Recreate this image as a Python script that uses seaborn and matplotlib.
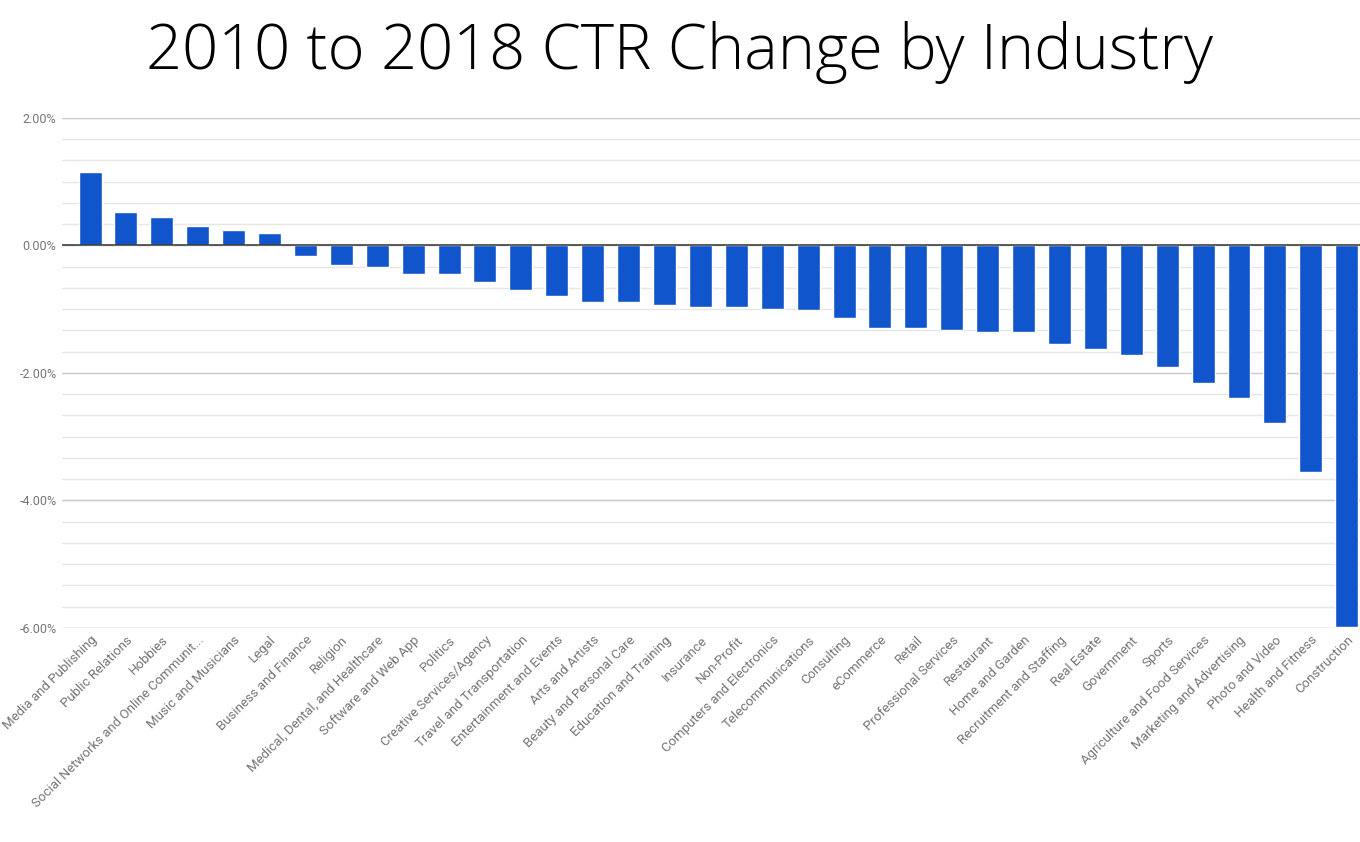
import matplotlib
matplotlib.use("Agg")
import matplotlib.pyplot as plt
import seaborn as sns
import pandas as pd
import numpy as np

industries = [
    "Media and Publishing", "Public Relations", "Hobbies",
    "Social Networks and Online Communit...", "Music and Musicians", "Legal",
    "Business and Finance", "Religion", "Medical, Dental, and Healthcare",
    "Software and Web App", "Politics", "Creative Services/Agency",
    "Travel and Transportation", "Entertainment and Events", "Arts and Artists",
    "Beauty and Personal Care", "Education and Training", "Insurance",
    "Non-Profit", "Computers and Electronics", "Telecommunications",
    "Consulting", "eCommerce", "Retail", "Professional Services", "Restaurant",
    "Home and Garden", "Recruitment and Staffing", "Real Estate", "Government",
    "Sports", "Agriculture and Food Services", "Marketing and Advertising",
    "Photo and Video", "Health and Fitness", "Construction",
]
ctr_change = [
    1.16, 0.52, 0.44, 0.30, 0.25, 0.20,
    -0.17, -0.31, -0.33, -0.44, -0.45, -0.58,
    -0.70, -0.80, -0.88, -0.89, -0.94, -0.96,
    -0.97, -0.99, -1.02, -1.14, -1.29, -1.30,
    -1.32, -1.36, -1.36, -1.55, -1.63, -1.72,
    -1.90, -2.16, -2.40, -2.79, -3.56, -5.99,
]
major_ticks = [2, 0, -2, -4, -6]
major_labels = ["2.00%", "0.00%", "-2.00%", "-4.00%", "-6.00%"]

df = pd.DataFrame({"industry": industries, "change": ctr_change})

sns.set_style("white")
plt.rcParams["font.family"] = ["Roboto", "DejaVu Sans"]

fig = plt.figure(figsize=(13.6, 8.42), dpi=100)
ax = fig.add_axes([0.0456, 0.2542, 0.9544, 0.6057])

# minor gridlines every third of a percent
for y in np.arange(-6, 2.01, 2 / 6):
    ax.axhline(y, color="#e6e6e6", lw=1, zorder=0)
for y in major_ticks:
    ax.axhline(y, color="#cccccc", lw=1, zorder=0)

sns.barplot(data=df, x="industry", y="change", color="#1155cc",
            saturation=1, width=0.64, ax=ax, zorder=2)
ax.axhline(0, color="#333333", lw=1.1, zorder=3)

ax.set_ylim(-6, 2)
ax.set_xlim(-0.78, 35.37)
ax.set_yticks(major_ticks)
ax.set_yticklabels(major_labels, color="#757575", fontsize=9)
ax.tick_params(axis="y", length=0, pad=4)
ax.tick_params(axis="x", length=0, pad=4)
ax.set_xticks(range(len(industries)))
ax.set_xticklabels(industries, rotation=45, ha="right", rotation_mode="anchor",
                   color="#757575", fontsize=9.5)
ax.set_xlabel("")
ax.set_ylabel("")
for s in ax.spines.values():
    s.set_visible(False)

fig.text(0.5, 0.918, "2010 to 2018 CTR Change by Industry", ha="center",
         va="baseline", fontsize=45.5, color="black",
         family=["Open Sans", "DejaVu Sans"], fontweight="light")

fig.savefig("out.png", dpi=100)
